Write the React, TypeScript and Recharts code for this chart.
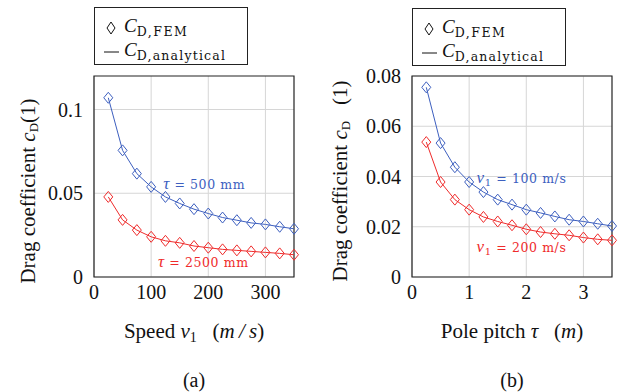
import {
  LineChart,
  Line,
  XAxis,
  YAxis,
  CartesianGrid,
  ReferenceArea,
  ReferenceDot,
  Label,
} from "recharts";

// (a) drag coefficient vs speed
const speeds = [25, 50, 75, 100, 125, 150, 175, 200, 225, 250, 275, 300, 325, 350];
const cdTau500 = [0.107, 0.0756, 0.0617, 0.0538, 0.0478, 0.0439, 0.0405, 0.0379, 0.0355, 0.0339, 0.0323, 0.0314, 0.03, 0.0288];
const cdTau2500 = [0.0478, 0.0341, 0.028, 0.024, 0.0216, 0.0204, 0.0185, 0.0175, 0.0165, 0.0159, 0.0153, 0.0147, 0.0141, 0.0133];

// (b) drag coefficient vs pole pitch
const pitches = [0.25, 0.5, 0.75, 1, 1.25, 1.5, 1.75, 2, 2.25, 2.5, 2.75, 3, 3.25, 3.5];
const cdV100 = [0.0755, 0.0533, 0.0437, 0.0378, 0.0338, 0.0308, 0.0288, 0.0268, 0.0255, 0.0241, 0.0228, 0.0221, 0.0212, 0.0203];
const cdV200 = [0.0537, 0.0378, 0.0308, 0.0268, 0.0239, 0.0221, 0.0206, 0.019, 0.0179, 0.0172, 0.0166, 0.0157, 0.015, 0.0146];

const xTicksA = [0, 100, 200, 300];
const yTicksA = [0, 0.05, 0.1];
const xTicksB = [0, 1, 2, 3];
const yTicksB = [0, 0.02, 0.04, 0.06, 0.08];

const dataA = speeds.map((v, i) => ({ x: v, blue: cdTau500[i], red: cdTau2500[i] }));
const dataB = pitches.map((t, i) => ({ x: t, blue: cdV100[i], red: cdV200[i] }));

const BLUE = "#3d5fbf";
const RED = "#ef2b2b";
const SERIF = "Liberation Serif";
const SUB = "DejaVu Serif";

const Diamond = (color: string) => (props: any) => {
  const { cx, cy, index } = props;
  if (cx == null || cy == null) return <g key={index} />;
  return (
    <path
      key={index}
      d={`M${cx},${cy - 5.5} L${cx + 4.5},${cy} L${cx},${cy + 5.5} L${cx - 4.5},${cy} Z`}
      fill="none"
      stroke={color}
      strokeWidth={1}
    />
  );
};

// legend box drawn over each panel
const LegendBox = ({ left, top }: { left: number; top: number }) => (
  <div
    style={{
      position: "absolute",
      left,
      top,
      width: 152,
      height: 56,
      border: "1px solid #222",
      background: "#fff",
    }}
  >
    <svg width={152} height={56} style={{ display: "block", overflow: "visible" }}>
      <path d="M16,14 L20,20 L16,26 L12,20 Z" fill="none" stroke="#111" strokeWidth={1} />
      <text x={29} y={24} fontSize={19} fill="#111" fontFamily={SERIF}>
        <tspan fontStyle="italic">C</tspan>
        <tspan fontFamily={SUB} fontSize={12.5} dy={4} letterSpacing={1.5}>D,FEM</tspan>
      </text>
      <line x1={9} y1={44} x2={24} y2={44} stroke="#111" strokeWidth={1} />
      <text x={29} y={48} fontSize={19} fill="#111" fontFamily={SERIF}>
        <tspan fontStyle="italic">C</tspan>
        <tspan fontFamily={SUB} fontSize={12.5} dy={4} letterSpacing={1.2}>D,analytical</tspan>
      </text>
    </svg>
  </div>
);

const Note = ({ viewBox, sym, sub, rest, color }: any) => {
  const { x, y } = viewBox;
  return (
    <text x={x} y={y + 5} fill={color} fontFamily={SUB} fontSize={12.5} letterSpacing={0.6}>
      <tspan fontFamily={SERIF} fontStyle="italic" fontSize={17}>{sym}</tspan>
      {sub ? <tspan fontSize={10} dy={3}>{sub}</tspan> : null}
      <tspan dy={sub ? -3 : 0}>{rest}</tspan>
    </text>
  );
};

const XTitle = ({ viewBox, parts, caption }: any) => {
  const { x, y, width } = viewBox;
  const cx = x + width / 2;
  return (
    <g>
      <text x={cx} y={y + 61} textAnchor="middle" fontFamily={SERIF} fontSize={21} fill="#111">
        {parts}
      </text>
      <text x={cx} y={y + 110} textAnchor="middle" fontFamily={SERIF} fontSize={20} fill="#111">
        {caption}
      </text>
    </g>
  );
};

const YTitle = ({ gap, cxAbs, cyAbs }: any) => {
  const cx = cxAbs;
  const cy = cyAbs;
  return (
    <text
      x={cx}
      y={cy}
      transform={`rotate(-90 ${cx} ${cy})`}
      textAnchor="middle"
      dominantBaseline="central"
      fontFamily={SERIF}
      fontSize={21}
      fill="#111"
    >
      Drag coefficient <tspan fontStyle="italic">c</tspan>
      <tspan fontSize={13} dy={5}>D</tspan>
      <tspan dy={-5}>{gap}(1)</tspan>
    </text>
  );
};

const tickStyle = { fontFamily: SERIF, fontSize: 20, fill: "#111" };

const fmtB = (v: number) => (v === 0 ? "0" : v.toFixed(2));

export default function App() {
  return (
    <div style={{ position: "absolute", left: 0, top: 0, width: 633, height: 392, background: "#fff" }}>
      <div style={{ position: "absolute", left: 0, top: 0 }}>
        <LineChart width={320} height={392} data={dataA} margin={{ top: 76, right: 26, bottom: 85, left: 34 }}>
          <CartesianGrid stroke="#d6d6d6" horizontalValues={yTicksA} verticalValues={xTicksA} />
          <XAxis
            dataKey="x"
            type="number"
            domain={[0, 350]}
            ticks={xTicksA}
            tick={tickStyle}
            tickLine={false}
            axisLine={false}
            height={30}
            tickMargin={2}
          >
            <Label
              content={(p: any) => (
                <XTitle
                  viewBox={p.viewBox}
                  caption="(a)"
                  parts={[
                    "Speed ",
                    <tspan key="v" fontStyle="italic">v</tspan>,
                    <tspan key="1" fontSize={14} dy={4}>1</tspan>,
                    <tspan key="r" dy={-4}>{"\u00a0\u00a0\u00a0("}</tspan>,
                    <tspan key="m" fontStyle="italic">{"m\u2009/\u2009s"}</tspan>,
                    ")",
                  ]}
                />
              )}
            />
          </XAxis>
          <YAxis
            type="number"
            domain={[0, 0.12]}
            ticks={yTicksA}
            tick={tickStyle}
            tickLine={false}
            axisLine={false}
            width={60}
            tickMargin={5}
          >
            <Label content={() => <YTitle gap="" cxAbs={28} cyAbs={191} />} />
          </YAxis>
          <ReferenceArea x1={0} x2={350} y1={0} y2={0.12} fill="none" stroke="#222" strokeWidth={1.2} />
          <Line dataKey="blue" stroke={BLUE} strokeWidth={1} dot={Diamond(BLUE)} isAnimationActive={false} />
          <Line dataKey="red" stroke={RED} strokeWidth={1} dot={Diamond(RED)} isAnimationActive={false} />
          <ReferenceDot x={121} y={0.0554} r={0} fill="none" stroke="none">
            <Label content={(p: any) => <Note viewBox={p.viewBox} sym="τ" rest=" = 500 mm" color={BLUE} />} />
          </ReferenceDot>
          <ReferenceDot x={112} y={0.0089} r={0} fill="none" stroke="none">
            <Label content={(p: any) => <Note viewBox={p.viewBox} sym="τ" rest=" = 2500 mm" color={RED} />} />
          </ReferenceDot>
        </LineChart>
        <LegendBox left={94} top={7} />
      </div>
      <div style={{ position: "absolute", left: 320, top: 0 }}>
        <LineChart width={313} height={392} data={dataB} margin={{ top: 76, right: 21, bottom: 85, left: 32 }}>
          <CartesianGrid stroke="#d6d6d6" horizontalValues={yTicksB} verticalValues={xTicksB} />
          <XAxis
            dataKey="x"
            type="number"
            domain={[0, 3.5]}
            ticks={xTicksB}
            tick={tickStyle}
            tickLine={false}
            axisLine={false}
            height={30}
            tickMargin={2}
          >
            <Label
              content={(p: any) => (
                <XTitle
                  viewBox={p.viewBox}
                  caption="(b)"
                  parts={[
                    "Pole pitch ",
                    <tspan key="t" fontStyle="italic">τ</tspan>,
                    <tspan key="r">{"\u00a0\u00a0\u00a0("}</tspan>,
                    <tspan key="m" fontStyle="italic">m</tspan>,
                    ")",
                  ]}
                />
              )}
            />
          </XAxis>
          <YAxis
            type="number"
            domain={[0, 0.08]}
            ticks={yTicksB}
            tick={tickStyle}
            tickLine={false}
            axisLine={false}
            width={60}
            tickMargin={5}
            tickFormatter={fmtB}
          >
            <Label content={() => <YTitle gap={"\u00a0\u00a0\u00a0"} cxAbs={20} cyAbs={181} />} />
          </YAxis>
          <ReferenceArea x1={0} x2={3.5} y1={0} y2={0.08} fill="none" stroke="#222" strokeWidth={1.2} />
          <Line dataKey="blue" stroke={BLUE} strokeWidth={1} dot={Diamond(BLUE)} isAnimationActive={false} />
          <Line dataKey="red" stroke={RED} strokeWidth={1} dot={Diamond(RED)} isAnimationActive={false} />
          <ReferenceDot x={1.13} y={0.0396} r={0} fill="none" stroke="none">
            <Label content={(p: any) => <Note viewBox={p.viewBox} sym="v" sub="1" rest=" = 100 m/s" color={BLUE} />} />
          </ReferenceDot>
          <ReferenceDot x={1.13} y={0.0118} r={0} fill="none" stroke="none">
            <Label content={(p: any) => <Note viewBox={p.viewBox} sym="v" sub="1" rest=" = 200 m/s" color={RED} />} />
          </ReferenceDot>
        </LineChart>
        <LegendBox left={92} top={8} />
      </div>
    </div>
  );
}
